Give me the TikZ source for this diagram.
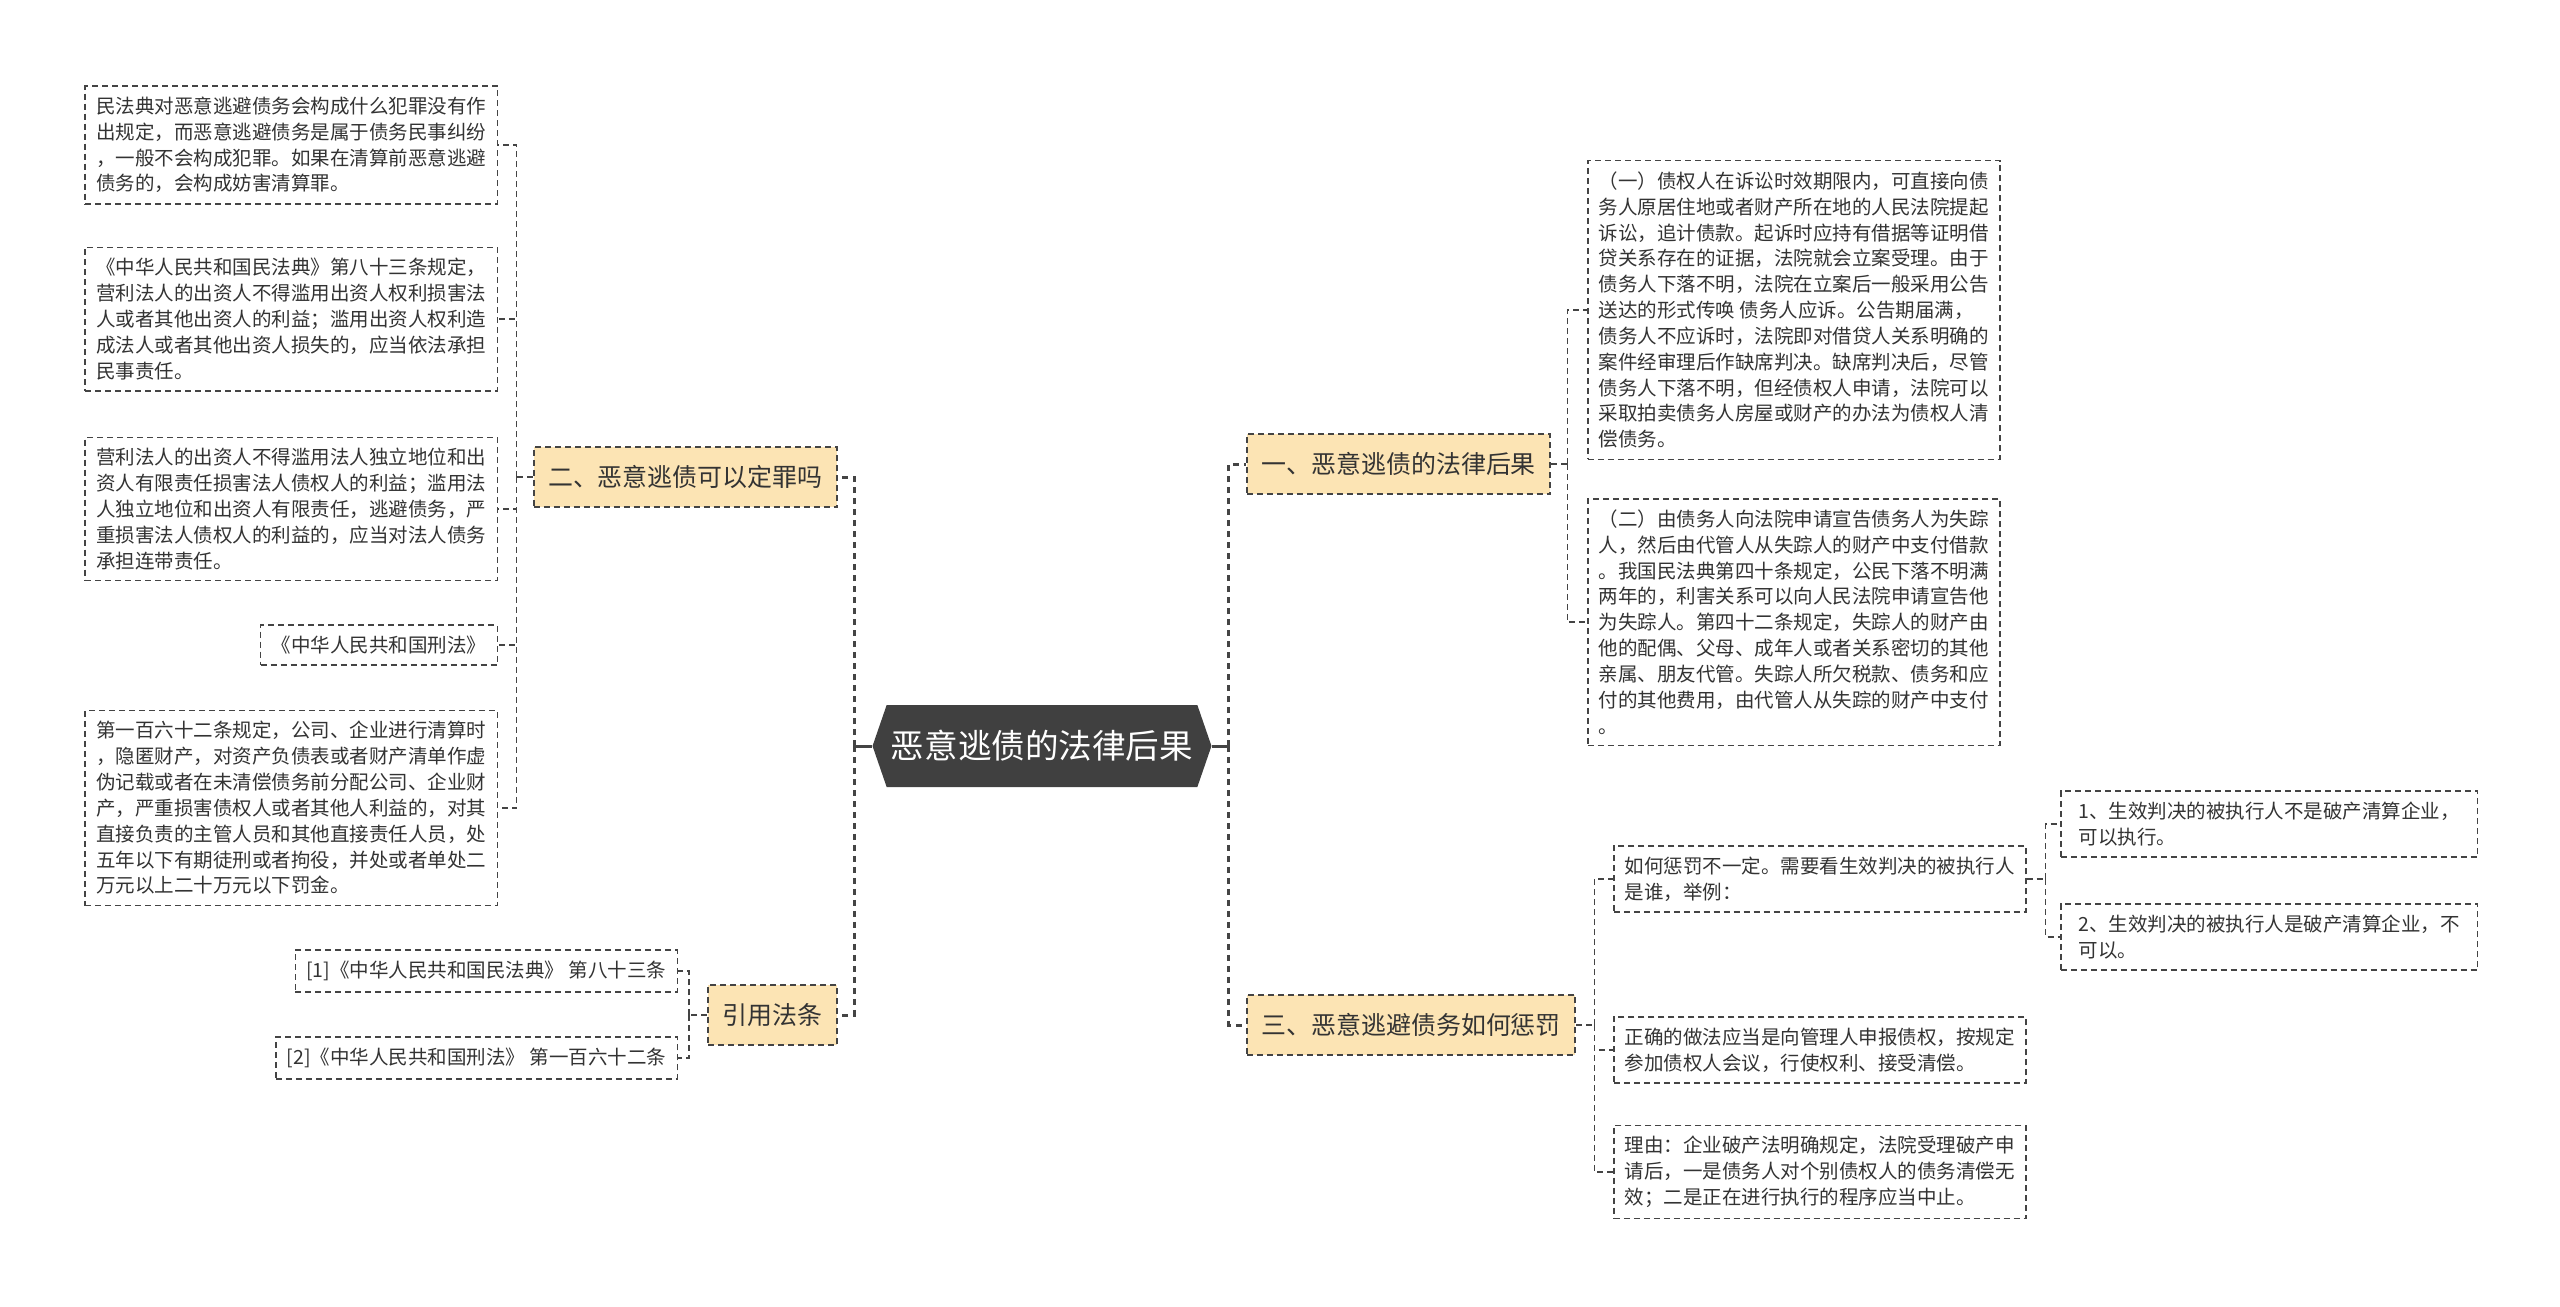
\documentclass[tikz,border=0pt]{standalone}
\usepackage{fontspec}
\setmainfont{Noto Sans CJK SC}
\usetikzlibrary{positioning,shapes.symbols}
\definecolor{linegray}{RGB}{68,68,68}
\definecolor{textgray}{RGB}{51,51,51}
\definecolor{rootgray}{RGB}{64,64,64}
\definecolor{topicfill}{RGB}{252,228,180}
\tikzset{
  rootbox/.style={signal, signal to=west and east, signal pointer angle=142,
    fill=rootgray, text=white, minimum width=6.78cm, minimum height=1.64cm,
    inner xsep=0pt, font=\fontsize{19.1}{22}\selectfont},
  topicbox/.style={rectangle, draw=linegray, line width=0.04cm,
    dash pattern=on 0.12cm off 0.08cm, fill=topicfill, text=textgray,
    inner xsep=0.29cm, minimum height=1.2cm, font=\fontsize{14.2}{17}\selectfont},
  detailbox/.style={rectangle, draw=linegray, line width=0.03cm,
    dash pattern=on 0.12cm off 0.08cm, fill=white, text=textgray, align=left,
    inner xsep=0.22cm, inner ysep=0.22cm, font=\fontsize{11.1}{14.7}\selectfont},
  trunk/.style={draw=linegray, line width=0.06cm, dash pattern=on 0.12cm off 0.1cm},
  rootlink/.style={draw=linegray, line width=0.06cm},
  branch/.style={draw=linegray, line width=0.03cm, dash pattern=on 0.12cm off 0.08cm}
}
\begin{document}
\begin{tikzpicture}[x=0.02cm, y=-0.02cm]

  \fill[white] (0,0) rectangle (2560,1306);

  % --- root ---
  \node[rootbox] (root) at (1042,746) {恶意逃债的法律后果};

  % --- left topics ---
  \node[topicbox, anchor=east] (crime) at (838,477) {二、恶意逃债可以定罪吗};
  \node[topicbox, anchor=east] (cite) at (838,1015) {引用法条};

  \node[detailbox, anchor=east] (civil) at (498,145)
       {民法典对恶意逃避债务会构成什么犯罪没有作\\出规定，而恶意逃避债务是属于债务民事纠纷\\，一般不会构成犯罪。如果在清算前恶意逃避\\债务的，会构成妨害清算罪。};
  \node[detailbox, anchor=east] (art83) at (498,319)
       {《中华人民共和国民法典》第八十三条规定，\\营利法人的出资人不得滥用出资人权利损害法\\人或者其他出资人的利益；滥用出资人权利造\\成法人或者其他出资人损失的，应当依法承担\\民事责任。};
  \node[detailbox, anchor=east] (abuse) at (498,509)
       {营利法人的出资人不得滥用法人独立地位和出\\资人有限责任损害法人债权人的利益；滥用法\\人独立地位和出资人有限责任，逃避债务，严\\重损害法人债权人的利益的，应当对法人债务\\承担连带责任。};
  \node[detailbox, anchor=east] (penal) at (498,645) {《中华人民共和国刑法》};
  \node[detailbox, anchor=east] (art162) at (498,808)
       {第一百六十二条规定，公司、企业进行清算时\\，隐匿财产，对资产负债表或者财产清单作虚\\伪记载或者在未清偿债务前分配公司、企业财\\产，严重损害债权人或者其他人利益的，对其\\直接负责的主管人员和其他直接责任人员，处\\五年以下有期徒刑或者拘役，并处或者单处二\\万元以上二十万元以下罚金。};

  \node[detailbox, anchor=east] (ref1) at (678,971) {[1]《中华人民共和国民法典》 第八十三条};
  \node[detailbox, anchor=east] (ref2) at (678,1058) {[2]《中华人民共和国刑法》 第一百六十二条};

  % --- right topics ---
  \node[topicbox, anchor=west] (result) at (1246,464) {一、恶意逃债的法律后果};
  \node[topicbox, anchor=west] (punish) at (1246,1025) {三、恶意逃避债务如何惩罚};

  \node[detailbox, anchor=west] (sue) at (1587,310)
       {（一）债权人在诉讼时效期限内，可直接向债\\务人原居住地或者财产所在地的人民法院提起\\诉讼，追计债款。起诉时应持有借据等证明借\\贷关系存在的证据，法院就会立案受理。由于\\债务人下落不明，法院在立案后一般采用公告\\送达的形式传唤 债务人应诉。公告期届满，\\债务人不应诉时，法院即对借贷人关系明确的\\案件经审理后作缺席判决。缺席判决后，尽管\\债务人下落不明，但经债权人申请，法院可以\\采取拍卖债务人房屋或财产的办法为债权人清\\偿债务。};
  \node[detailbox, anchor=west] (missing) at (1587,622)
       {（二）由债务人向法院申请宣告债务人为失踪\\人，然后由代管人从失踪人的财产中支付借款\\。我国民法典第四十条规定，公民下落不明满\\两年的，利害关系可以向人民法院申请宣告他\\为失踪人。第四十二条规定，失踪人的财产由\\他的配偶、父母、成年人或者关系密切的其他\\亲属、朋友代管。失踪人所欠税款、债务和应\\付的其他费用，由代管人从失踪的财产中支付\\。};

  \node[detailbox, anchor=west] (how) at (1613,879)
       {如何惩罚不一定。需要看生效判决的被执行人\\是谁，举例：};
  \node[detailbox, anchor=west, minimum width=8.34cm] (case1) at (2060,824)
       {1、生效判决的被执行人不是破产清算企业，\\可以执行。};
  \node[detailbox, anchor=west, minimum width=8.34cm] (case2) at (2060,937)
       {2、生效判决的被执行人是破产清算企业，不\\可以。};
  \node[detailbox, anchor=west] (claim) at (1613,1050)
       {正确的做法应当是向管理人申报债权，按规定\\参加债权人会议，行使权利、接受清偿。};
  \node[detailbox, anchor=west] (reason) at (1613,1172)
       {理由：企业破产法明确规定，法院受理破产申\\请后，一是债务人对个别债权人的债务清偿无\\效；二是正在进行执行的程序应当中止。};

  % ---------------- edges ----------------
  \draw[rootlink] (root.west) -- ++(-18,0) coordinate (lefttrunk);
  \draw[trunk] (lefttrunk) |- (crime.east);
  \draw[trunk] (lefttrunk) |- (cite.east);
  \draw[rootlink] (root.east) -- ++(17,0) coordinate (righttrunk);
  \draw[trunk] (righttrunk) |- (result.west);
  \draw[trunk] (righttrunk) |- (punish.west);

  \draw[branch] (crime.west) -- ++(-16,0) coordinate (crimefork);
  \draw[branch] (crimefork) |- (civil.east);
  \draw[branch] (crimefork) |- (art83.east);
  \draw[branch] (crimefork) |- (abuse.east);
  \draw[branch] (crimefork) |- (penal.east);
  \draw[branch] (crimefork) |- (art162.east);

  \draw[branch] (cite.west) -- ++(-18,0) coordinate (citefork);
  \draw[branch] (citefork) |- (ref1.east);
  \draw[branch] (citefork) |- (ref2.east);

  \draw[branch] (result.east) -- ++(16,0) coordinate (resultfork);
  \draw[branch] (resultfork) |- (sue.west);
  \draw[branch] (resultfork) |- (missing.west);

  \draw[branch] (punish.east) -- ++(18,0) coordinate (punishfork);
  \draw[branch] (punishfork) |- (how.west);
  \draw[branch] (punishfork) |- (claim.west);
  \draw[branch] (punishfork) |- (reason.west);

  \draw[branch] (how.east) -- ++(19,0) coordinate (howfork);
  \draw[branch] (howfork) |- (case1.west);
  \draw[branch] (howfork) |- (case2.west);

\end{tikzpicture}
\end{document}
